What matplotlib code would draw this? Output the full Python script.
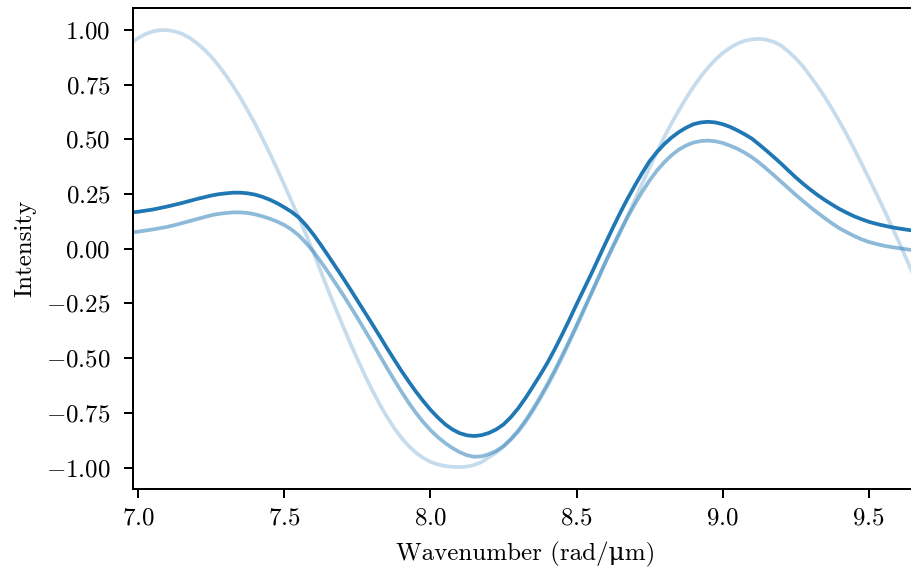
import matplotlib
matplotlib.use("Agg")
import matplotlib.pyplot as plt

plt.rcParams["font.family"] = ["cmr10", "DejaVu Serif"]
plt.rcParams["mathtext.fontset"] = "cm"
plt.rcParams["axes.formatter.use_mathtext"] = True
plt.rcParams["font.size"] = 10

# Wavenumber samples (rad/um), 6.975 ... 9.675
wavenumber = [
    6.975, 7.000, 7.025, 7.050, 7.075, 7.100, 7.125, 7.150, 7.175, 7.200,
    7.225, 7.250, 7.275, 7.300, 7.325, 7.350, 7.375, 7.400, 7.425, 7.450,
    7.475, 7.500, 7.525, 7.550, 7.575, 7.600, 7.625, 7.650, 7.675, 7.700,
    7.725, 7.750, 7.775, 7.800, 7.825, 7.850, 7.875, 7.900, 7.925, 7.950,
    7.975, 8.000, 8.025, 8.050, 8.075, 8.100, 8.125, 8.150, 8.175, 8.200,
    8.225, 8.250, 8.275, 8.300, 8.325, 8.350, 8.375, 8.400, 8.425, 8.450,
    8.475, 8.500, 8.525, 8.550, 8.575, 8.600, 8.625, 8.650, 8.675, 8.700,
    8.725, 8.750, 8.775, 8.800, 8.825, 8.850, 8.875, 8.900, 8.925, 8.950,
    8.975, 9.000, 9.025, 9.050, 9.075, 9.100, 9.125, 9.150, 9.175, 9.200,
    9.225, 9.250, 9.275, 9.300, 9.325, 9.350, 9.375, 9.400, 9.425, 9.450,
    9.475, 9.500, 9.525, 9.550, 9.575, 9.600, 9.625, 9.650, 9.675,
]

# Intensity traces
intensity_strong = [
    0.165, 0.169, 0.174, 0.179, 0.186, 0.193, 0.201, 0.209, 0.218, 0.227,
    0.235, 0.243, 0.249, 0.253, 0.256, 0.256, 0.253, 0.247, 0.237, 0.224,
    0.208, 0.189, 0.168, 0.142, 0.106, 0.064, 0.017, -0.032, -0.082, -0.132,
    -0.184, -0.237, -0.290, -0.343, -0.397, -0.452, -0.505, -0.557, -0.606, -0.653,
    -0.696, -0.736, -0.771, -0.802, -0.826, -0.843, -0.853, -0.856, -0.852, -0.842,
    -0.826, -0.803, -0.770, -0.730, -0.683, -0.631, -0.578, -0.522, -0.460, -0.394,
    -0.325, -0.254, -0.185, -0.116, -0.044, 0.028, 0.098, 0.166, 0.230, 0.290,
    0.347, 0.400, 0.442, 0.478, 0.508, 0.533, 0.553, 0.569, 0.577, 0.580,
    0.577, 0.569, 0.557, 0.541, 0.523, 0.503, 0.476, 0.448, 0.419, 0.389,
    0.357, 0.326, 0.297, 0.270, 0.245, 0.222, 0.201, 0.181, 0.164, 0.148,
    0.135, 0.123, 0.114, 0.106, 0.099, 0.093, 0.088, 0.083, 0.079,
]

intensity_medium = [
    0.074, 0.078, 0.083, 0.088, 0.094, 0.100, 0.108, 0.117, 0.126, 0.135,
    0.144, 0.153, 0.159, 0.163, 0.166, 0.166, 0.163, 0.157, 0.148, 0.137,
    0.124, 0.108, 0.087, 0.060, 0.025, -0.014, -0.060, -0.108, -0.158, -0.209,
    -0.262, -0.316, -0.372, -0.428, -0.485, -0.542, -0.598, -0.652, -0.703, -0.750,
    -0.792, -0.829, -0.861, -0.888, -0.911, -0.930, -0.944, -0.951, -0.949, -0.939,
    -0.924, -0.902, -0.870, -0.832, -0.786, -0.735, -0.679, -0.620, -0.557, -0.490,
    -0.421, -0.350, -0.277, -0.204, -0.131, -0.058, 0.013, 0.082, 0.146, 0.205,
    0.261, 0.312, 0.357, 0.395, 0.427, 0.453, 0.472, 0.485, 0.492, 0.494,
    0.491, 0.483, 0.471, 0.457, 0.439, 0.418, 0.393, 0.365, 0.336, 0.306,
    0.276, 0.246, 0.218, 0.190, 0.164, 0.139, 0.115, 0.093, 0.075, 0.058,
    0.043, 0.031, 0.022, 0.014, 0.008, 0.003, -0.002, -0.007, -0.010,
]

intensity_weak = [
    0.939, 0.963, 0.981, 0.993, 0.999, 0.999, 0.993, 0.982, 0.964, 0.940,
    0.911, 0.877, 0.837, 0.792, 0.743, 0.689, 0.631, 0.570, 0.504, 0.436,
    0.365, 0.291, 0.216, 0.140, 0.063, -0.020, -0.105, -0.190, -0.272, -0.352,
    -0.430, -0.505, -0.577, -0.645, -0.708, -0.766, -0.818, -0.863, -0.901, -0.932,
    -0.956, -0.974, -0.986, -0.993, -0.997, -0.998, -0.996, -0.988, -0.975, -0.953,
    -0.932, -0.905, -0.873, -0.838, -0.794, -0.744, -0.689, -0.630, -0.567, -0.500,
    -0.430, -0.358, -0.284, -0.210, -0.135, -0.060, 0.008, 0.075, 0.150, 0.225,
    0.299, 0.372, 0.442, 0.510, 0.573, 0.632, 0.688, 0.740, 0.787, 0.828,
    0.864, 0.894, 0.918, 0.937, 0.950, 0.957, 0.959, 0.955, 0.945, 0.928,
    0.901, 0.870, 0.833, 0.788, 0.742, 0.692, 0.638, 0.580, 0.520, 0.456,
    0.390, 0.322, 0.254, 0.184, 0.112, 0.040, -0.035, -0.112, -0.190,
]

x_ticks = [7.0, 7.5, 8.0, 8.5, 9.0, 9.5]
y_ticks = [-1.00, -0.75, -0.50, -0.25, 0.00, 0.25, 0.50, 0.75, 1.00]

dpi = 180
fig = plt.figure(figsize=(911 / dpi, 572 / dpi), dpi=dpi)
ax = fig.add_axes([133.3 / 911, 1 - 489.4 / 572, (917 - 133.3) / 911, (489.4 - 8.0) / 572])

blue = "#1f77b4"
ax.plot(wavenumber, intensity_weak, color=blue, alpha=0.25, lw=1.5)
ax.plot(wavenumber, intensity_medium, color=blue, alpha=0.5, lw=1.5)
ax.plot(wavenumber, intensity_strong, color=blue, alpha=1.0, lw=1.5)

ax.set_xlim(6.983, 9.665)
ax.set_ylim(-1.1, 1.1)
ax.set_xticks(x_ticks)
ax.set_yticks(y_ticks)
ax.tick_params(axis="y", pad=5.5)
ax.set_xlabel("Wavenumber (rad/\u03bcm)", labelpad=5)
ax.set_ylabel("Intensity")

fig.savefig("out.png", dpi=dpi)
